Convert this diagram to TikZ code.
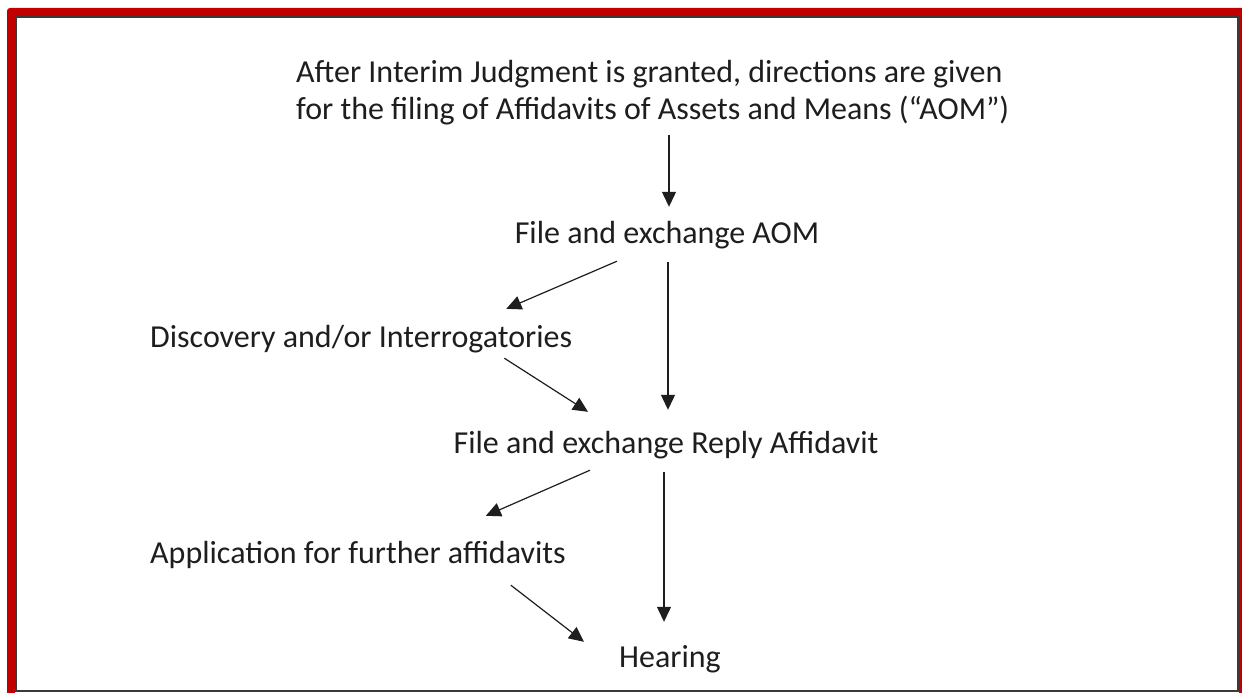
\documentclass[tikz,border=0pt]{standalone}
\usepackage{fontspec}
\setmainfont{Carlito}
\usetikzlibrary{arrows.meta,calc,positioning}
\definecolor{framered}{HTML}{C00000}
\definecolor{framegray}{HTML}{3A3A3A}
\definecolor{inktext}{HTML}{1E1E1E}
\tikzset{
  txt/.style={inner sep=0pt, text=inktext, font=\fontsize{32}{37}\selectfont,
    text height=22pt, text depth=8pt},
  arr/.style={-{Triangle[length=15pt,width=14pt]}, line width=1.2pt, draw=inktext}
}
\begin{document}
\begin{tikzpicture}[x=1pt,y=-1pt]
\useasboundingbox (0,0) rectangle (1242,693);
% frame
\fill[framered, rounded corners=3pt] (7,8) rectangle (1260,720);
\fill[white] (15,16) rectangle (1238.5,693);
\draw[framegray, line width=1.5pt] (16,17) rectangle (1238,691);
% steps
\node[txt, anchor=base west, align=left] (intro) at (296,119)
  {After Interim Judgment is granted, directions are given\\
   for the filing of Affidavits of Assets and Means (``AOM'')};
\node[txt, anchor=base] (aom) at (667,243) {File and exchange AOM};
\node[txt, anchor=base west] (disc) at (150,347) {Discovery and/or Interrogatories};
\node[txt, anchor=base] (reply) at (666,453) {File and exchange Reply Affidavit};
\node[txt, anchor=base west] (app) at (150,563) {Application for further affidavits};
\node[txt, anchor=base] (hear) at (670,667) {Hearing};
% connectors
\draw[arr] ($(intro.south -| aom.north)+(2,8)$) -- ($(aom.north)+(2,-14)$);
\draw[arr] ($(aom.south)+(-50,10)$) -- ($(disc.north east)+(-66,-16)$);
\draw[arr] ($(aom.south)+(1,11)$) -- ($(reply.north)+(2,-21)$);
\draw[arr] ($(disc.south east)+(-68,3)$) -- ($(reply.north)+(-78,-19)$);
\draw[arr] ($(reply.south)+(-76,9)$) -- ($(app.north east)+(-80,-25)$);
\draw[arr] ($(reply.south)+(-2,11)$) -- ($(hear.north)+(-6,-23)$);
\draw[arr] ($(app.south east)+(-55,14)$) -- ($(hear.north west)+(-35,-3)$);
\end{tikzpicture}
\end{document}
